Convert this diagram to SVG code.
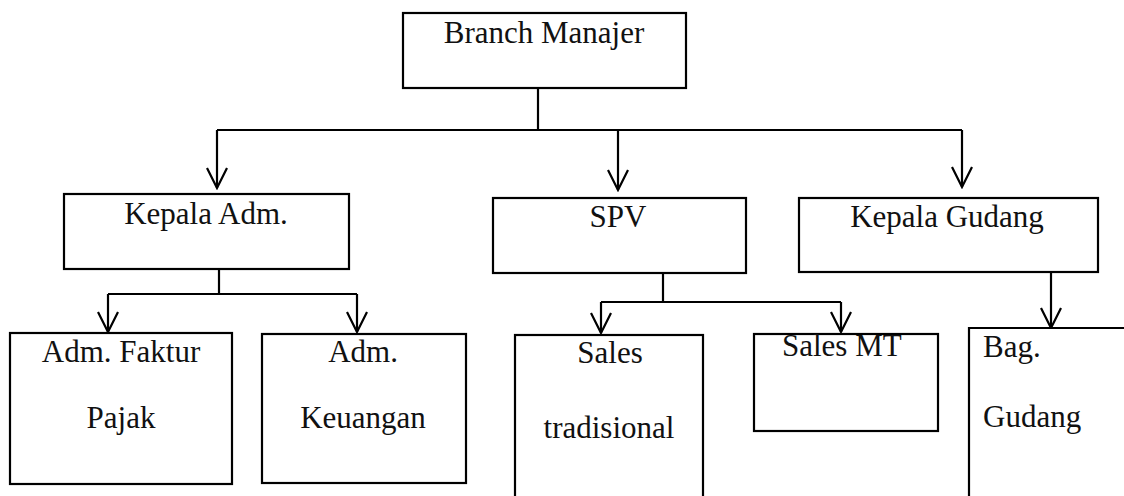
<svg xmlns="http://www.w3.org/2000/svg" width="1124" height="496" viewBox="0 0 1124 496">
<style>
.box{fill:#fff;stroke:#000;stroke-width:2.2}
.ln{fill:none;stroke:#000;stroke-width:2.2}
.t{font-family:'Liberation Serif','Times New Roman','DejaVu Serif',serif;font-size:31px;fill:#111}
.c{text-anchor:middle}
</style>
<defs>
<marker id="ah" viewBox="0 0 24 24" markerWidth="24" markerHeight="24" refX="22" refY="12" orient="auto" markerUnits="userSpaceOnUse">
<path d="M2,2 L22,12 L2,22" fill="none" stroke="#000" stroke-width="2.2"/>
</marker>
</defs>
<g id="connectors">
<path class="ln" d="M538,88 V130"/>
<path class="ln" d="M217,130 H962"/>
<path class="ln" d="M217,130 V188" marker-end="url(#ah)"/>
<path class="ln" d="M618,130 V190" marker-end="url(#ah)"/>
<path class="ln" d="M962,130 V187" marker-end="url(#ah)"/>
<path class="ln" d="M219,269 V294"/>
<path class="ln" d="M108,294 H357"/>
<path class="ln" d="M108,294 V332" marker-end="url(#ah)"/>
<path class="ln" d="M357,294 V332" marker-end="url(#ah)"/>
<path class="ln" d="M663,270 V302"/>
<path class="ln" d="M601,302 H841"/>
<path class="ln" d="M601,302 V333" marker-end="url(#ah)"/>
<path class="ln" d="M841,302 V332" marker-end="url(#ah)"/>
<path class="ln" d="M1051,270 V328" marker-end="url(#ah)"/>
</g>
<g class="t">
<g id="branch-manajer">
<rect class="box" x="403" y="13" width="283" height="75"/>
<text class="c" x="544" y="43">Branch Manajer</text>
</g>
<g id="kepala-adm">
<rect class="box" x="64" y="194" width="285" height="75"/>
<text class="c" x="206" y="224">Kepala Adm.</text>
</g>
<g id="spv">
<rect class="box" x="493" y="198" width="253" height="75"/>
<text class="c" x="618" y="227">SPV</text>
</g>
<g id="kepala-gudang">
<rect class="box" x="799" y="198" width="299" height="74"/>
<text class="c" x="947" y="227">Kepala Gudang</text>
</g>
<g id="adm-faktur-pajak">
<rect class="box" x="10" y="333" width="222" height="151"/>
<text class="c" x="121" y="362">Adm. Faktur</text>
<text class="c" x="121" y="428">Pajak</text>
</g>
<g id="adm-keuangan">
<rect class="box" x="262" y="334" width="204" height="149"/>
<text class="c" x="363" y="362">Adm.</text>
<text class="c" x="363" y="428">Keuangan</text>
</g>
<g id="sales-tradisional">
<rect class="box" x="515" y="335" width="188" height="170"/>
<text class="c" x="610" y="363">Sales</text>
<text class="c" x="609" y="438">tradisional</text>
</g>
<g id="sales-mt">
<rect class="box" x="754" y="334" width="184" height="97"/>
<text x="782" y="356">Sales MT</text>
</g>
<g id="bag-gudang">
<path class="box" d="M1126,328 H969 V500"/>
<text x="983" y="357">Bag.</text>
<text x="983" y="427">Gudang</text>
</g>
</g>
</svg>
